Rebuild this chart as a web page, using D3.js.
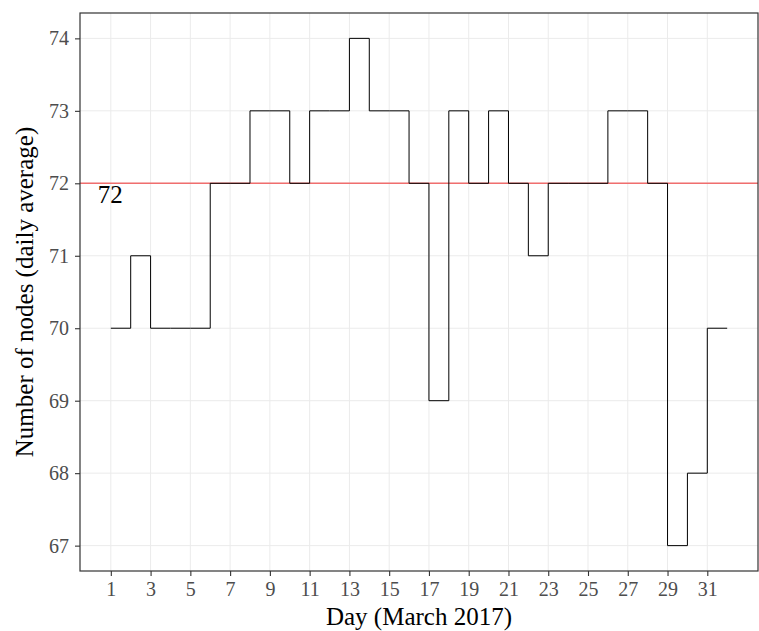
<!DOCTYPE html>
<html>
<head>
<meta charset="utf-8">
<script src="https://cdn.jsdelivr.net/npm/d3@7"></script>
<style>
  body { margin: 0; background: #fff; }
  svg { display: block; font-family: "Liberation Serif", "Times New Roman", serif; }
</style>
</head>
<body>
<svg id="chart" width="759" height="631"></svg>
<script>
// daily average node counts, March 2017 (last point closes the step)
const days = d3.range(1, 33);
const nodes = [70, 71, 70, 70, 70, 72, 72, 73, 73, 72, 73, 73, 74, 73, 73, 72,
               69, 73, 72, 73, 72, 71, 72, 72, 72, 73, 73, 72, 67, 68, 70, 70];
const xTicks = d3.range(1, 32, 2);
const yTicks = [67, 68, 69, 70, 71, 72, 73, 74];
const refValue = 72;

const data = days.map((d, i) => ({ day: d, value: nodes[i] }));

const width = 759;
const height = 631;
const margin = { top: 13, right: 1, bottom: 60, left: 80 };

const svg = d3.select('#chart');

const xScale = d3.scaleLinear()
  .domain([1 - 31 * 0.05, 32 + 31 * 0.05])
  .range([margin.left, width - margin.right]);

const yScale = d3.scaleLinear()
  .domain([67 - 0.35, 74 + 0.35])
  .range([height - margin.bottom, margin.top]);

// grid
svg.append('g')
  .selectAll('line')
  .data(xTicks)
  .enter().append('line')
  .attr('x1', d => xScale(d)).attr('x2', d => xScale(d))
  .attr('y1', margin.top).attr('y2', height - margin.bottom)
  .attr('stroke', '#ebebeb').attr('stroke-width', 1);

svg.append('g')
  .selectAll('line')
  .data(yTicks)
  .enter().append('line')
  .attr('y1', d => yScale(d)).attr('y2', d => yScale(d))
  .attr('x1', margin.left).attr('x2', width - margin.right)
  .attr('stroke', '#ebebeb').attr('stroke-width', 1);

// reference line
svg.append('line')
  .attr('x1', margin.left).attr('x2', width - margin.right)
  .attr('y1', yScale(refValue)).attr('y2', yScale(refValue))
  .attr('stroke', '#f06e6e').attr('stroke-width', 1.5);

// step line
const line = d3.line()
  .x(d => xScale(d.day))
  .y(d => yScale(d.value))
  .curve(d3.curveStepAfter);

svg.append('path')
  .datum(data)
  .attr('fill', 'none')
  .attr('stroke', '#000')
  .attr('stroke-width', 1)
  .attr('d', line);

svg.append('text')
  .attr('x', xScale(1) - 0.5)
  .attr('y', yScale(refValue) + 20)
  .attr('text-anchor', 'middle')
  .attr('font-size', 25)
  .attr('fill', '#000')
  .text(refValue);

// panel border
svg.append('rect')
  .attr('x', margin.left).attr('y', margin.top)
  .attr('width', width - margin.right - margin.left)
  .attr('height', height - margin.bottom - margin.top)
  .attr('fill', 'none').attr('stroke', '#333').attr('stroke-width', 1.2);

// axes
const xAxis = d3.axisBottom(xScale).tickValues(xTicks).tickSize(5).tickPadding(6);
const yAxis = d3.axisLeft(yScale).tickValues(yTicks).tickSize(5).tickPadding(6);

const gx = svg.append('g')
  .attr('transform', `translate(0,${height - margin.bottom})`)
  .call(xAxis);
const gy = svg.append('g')
  .attr('transform', `translate(${margin.left},0)`)
  .call(yAxis);

[gx, gy].forEach(g => {
  g.select('.domain').remove();
  g.selectAll('.tick line').attr('stroke', '#333').attr('stroke-width', 1.1);
  g.selectAll('.tick text')
    .attr('fill', '#4d4d4d')
    .attr('font-size', 20)
    .attr('font-family', '"Liberation Serif", serif');
});

svg.append('text')
  .attr('x', (margin.left + width - margin.right) / 2)
  .attr('y', 625)
  .attr('text-anchor', 'middle')
  .attr('font-size', 25)
  .text('Day (March 2017)');

svg.append('text')
  .attr('transform', `translate(33,${(margin.top + height - margin.bottom) / 2}) rotate(-90)`)
  .attr('text-anchor', 'middle')
  .attr('font-size', 25)
  .text('Number of nodes (daily average)');
</script>
</body>
</html>
